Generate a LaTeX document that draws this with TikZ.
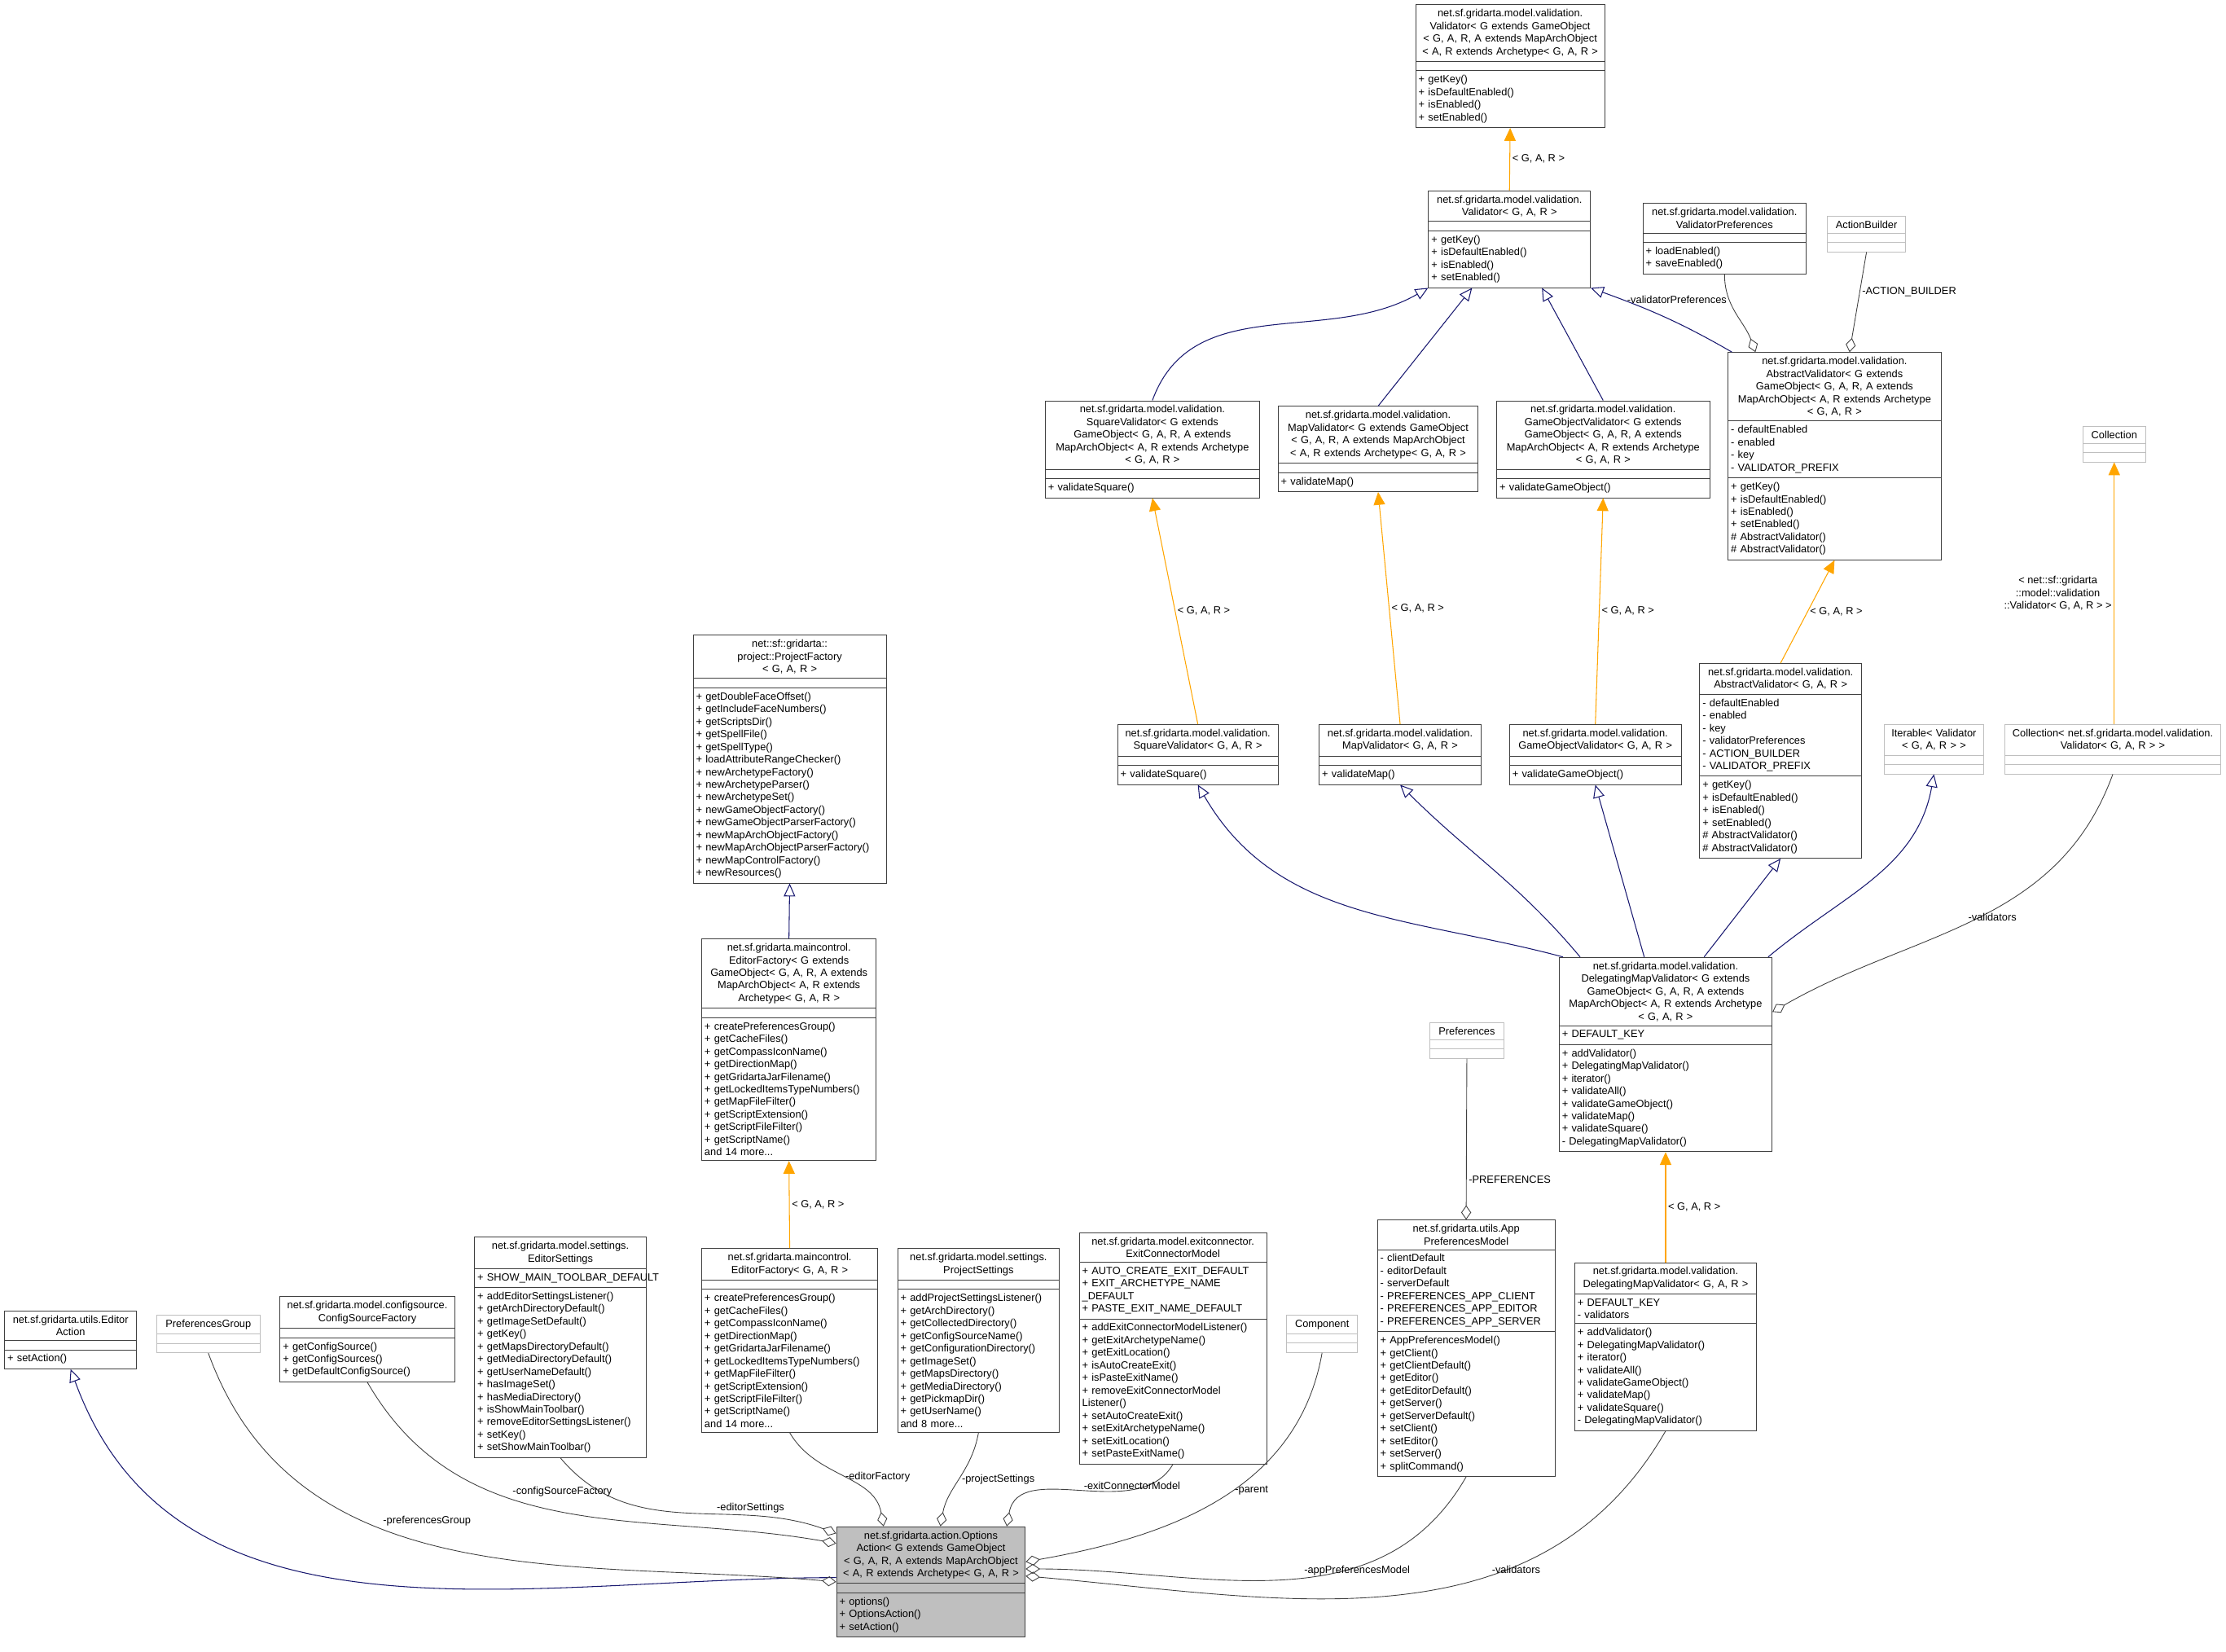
\documentclass[tikz,border=0pt]{standalone}
\usepackage{fontspec}
\setmainfont{Liberation Sans}
\usetikzlibrary{shapes.multipart,arrows.meta,calc}

\definecolor{boxline}{HTML}{404040}
\definecolor{inherit}{HTML}{191970}
\definecolor{tmpl}{HTML}{FFA500}
\definecolor{ghost}{HTML}{BFBFBF}
\definecolor{focus}{HTML}{BFBFBF}

\tikzset{
  cls/.style={draw=boxline,rectangle split,rectangle split parts=3,anchor=north west,
    inner xsep=2pt,inner ysep=3pt,font=\fontsize{7.3}{8.8}\selectfont,
    rectangle split empty part height=3pt,line width=0.5pt},
  ghostcls/.style={cls,draw=ghost},
  focuscls/.style={cls,fill=focus},
  isa/.style={draw=inherit,-{Triangle[open,length=9pt,width=8pt]},line width=0.6pt},
  tmplarrow/.style={draw=tmpl,-{Triangle[length=9pt,width=8pt]},line width=0.6pt},
  owns/.style={draw=boxline,{Diamond[open,length=10pt,width=7pt]}-,line width=0.5pt},
  lbl/.style={font=\fontsize{7.3}{8.8}\selectfont,inner sep=1.5pt},
}

% name, position, width, title, attributes, operations, style
\newcommand\umlclass[7][cls]{%
  \pgfmathsetlengthmacro\clswidth{#4*0.03486cm-4pt}%
  \node[#1,text width=\clswidth] (#2) at (#3)
    {{\centering #5\par}\nodepart{two}#6\nodepart{three}#7};}

\begin{document}
\begin{tikzpicture}[x=0.03486cm,y=-0.03486cm]
\useasboundingbox (0,0) rectangle (1568,1163.5);

% validation hierarchy
\umlclass{validatorg}{997,3}{133}{net.sf.gridarta.model.validation.\\Validator< G extends GameObject\\< G, A, R, A extends MapArchObject\\< A, R extends Archetype< G, A, R >}{}{+ getKey()\\+ isDefaultEnabled()\\+ isEnabled()\\+ setEnabled()}
\umlclass{validator}{1006,134}{114}{net.sf.gridarta.model.validation.\\Validator< G, A, R >}{}{+ getKey()\\+ isDefaultEnabled()\\+ isEnabled()\\+ setEnabled()}
\umlclass{valprefs}{1157,143}{115}{net.sf.gridarta.model.validation.\\ValidatorPreferences}{}{+ loadEnabled()\\+ saveEnabled()}
\umlclass[ghostcls]{actionbuilder}{1287,152}{55}{ActionBuilder}{}{}
\umlclass{abstractvalg}{1217,248}{150}{net.sf.gridarta.model.validation.\\AbstractValidator< G extends\\GameObject< G, A, R, A extends\\MapArchObject< A, R extends Archetype\\< G, A, R >}{- defaultEnabled\\- enabled\\- key\\- VALIDATOR\_PREFIX}{+ getKey()\\+ isDefaultEnabled()\\+ isEnabled()\\+ setEnabled()\\\# AbstractValidator()\\\# AbstractValidator()}
\umlclass{squarevalg}{736,282}{151}{net.sf.gridarta.model.validation.\\SquareValidator< G extends\\GameObject< G, A, R, A extends\\MapArchObject< A, R extends Archetype\\< G, A, R >}{}{+ validateSquare()}
\umlclass{mapvalg}{900,286}{141}{net.sf.gridarta.model.validation.\\MapValidator< G extends GameObject\\< G, A, R, A extends MapArchObject\\< A, R extends Archetype< G, A, R >}{}{+ validateMap()}
\umlclass{gameobjvalg}{1054,282}{150}{net.sf.gridarta.model.validation.\\GameObjectValidator< G extends\\GameObject< G, A, R, A extends\\MapArchObject< A, R extends Archetype\\< G, A, R >}{}{+ validateGameObject()}
\umlclass[ghostcls]{collection}{1467,300}{44}{Collection}{}{}
\umlclass{projectfactory}{488,447}{136}{net::sf::gridarta::\\project::ProjectFactory\\< G, A, R >}{}{+ getDoubleFaceOffset()\\+ getIncludeFaceNumbers()\\+ getScriptsDir()\\+ getSpellFile()\\+ getSpellType()\\+ loadAttributeRangeChecker()\\+ newArchetypeFactory()\\+ newArchetypeParser()\\+ newArchetypeSet()\\+ newGameObjectFactory()\\+ newGameObjectParserFactory()\\+ newMapArchObjectFactory()\\+ newMapArchObjectParserFactory()\\+ newMapControlFactory()\\+ newResources()}
\umlclass{abstractval}{1197,467}{114}{net.sf.gridarta.model.validation.\\AbstractValidator< G, A, R >}{- defaultEnabled\\- enabled\\- key\\- validatorPreferences\\- ACTION\_BUILDER\\- VALIDATOR\_PREFIX}{+ getKey()\\+ isDefaultEnabled()\\+ isEnabled()\\+ setEnabled()\\\# AbstractValidator()\\\# AbstractValidator()}
\umlclass{squareval}{787,510}{113}{net.sf.gridarta.model.validation.\\SquareValidator< G, A, R >}{}{+ validateSquare()}
\umlclass{mapval}{929,510}{114}{net.sf.gridarta.model.validation.\\MapValidator< G, A, R >}{}{+ validateMap()}
\umlclass{gameobjval}{1063,510}{121}{net.sf.gridarta.model.validation.\\GameObjectValidator< G, A, R >}{}{+ validateGameObject()}
\umlclass[ghostcls]{iterable}{1327,510}{70}{Iterable< Validator\\< G, A, R > >}{}{}
\umlclass[ghostcls]{valcollection}{1412,510}{152}{Collection< net.sf.gridarta.model.validation.\\Validator< G, A, R > >}{}{}
\umlclass{editorfactoryg}{494,661}{123}{net.sf.gridarta.maincontrol.\\EditorFactory< G extends\\GameObject< G, A, R, A extends\\MapArchObject< A, R extends\\Archetype< G, A, R >}{}{+ createPreferencesGroup()\\+ getCacheFiles()\\+ getCompassIconName()\\+ getDirectionMap()\\+ getGridartaJarFilename()\\+ getLockedItemsTypeNumbers()\\+ getMapFileFilter()\\+ getScriptExtension()\\+ getScriptFileFilter()\\+ getScriptName()\\and 14 more...}
\umlclass{delegatingg}{1098,674}{150}{net.sf.gridarta.model.validation.\\DelegatingMapValidator< G extends\\GameObject< G, A, R, A extends\\MapArchObject< A, R extends Archetype\\< G, A, R >}{+ DEFAULT\_KEY}{+ addValidator()\\+ DelegatingMapValidator()\\+ iterator()\\+ validateAll()\\+ validateGameObject()\\+ validateMap()\\+ validateSquare()\\- DelegatingMapValidator()}
\umlclass[ghostcls]{preferences}{1007,720}{52}{Preferences}{}{}

% members of the options action
\umlclass{editorsettings}{334,871}{121}{net.sf.gridarta.model.settings.\\EditorSettings}{\mbox{+ SHOW\_MAIN\_TOOLBAR\_DEFAULT}}{+ addEditorSettingsListener()\\+ getArchDirectoryDefault()\\+ getImageSetDefault()\\+ getKey()\\+ getMapsDirectoryDefault()\\+ getMediaDirectoryDefault()\\+ getUserNameDefault()\\+ hasImageSet()\\+ hasMediaDirectory()\\+ isShowMainToolbar()\\+ removeEditorSettingsListener()\\+ setKey()\\+ setShowMainToolbar()}
\umlclass{editorfactory}{494,879}{124}{net.sf.gridarta.maincontrol.\\EditorFactory< G, A, R >}{}{+ createPreferencesGroup()\\+ getCacheFiles()\\+ getCompassIconName()\\+ getDirectionMap()\\+ getGridartaJarFilename()\\+ getLockedItemsTypeNumbers()\\+ getMapFileFilter()\\+ getScriptExtension()\\+ getScriptFileFilter()\\+ getScriptName()\\and 14 more...}
\umlclass{projectsettings}{632,879}{114}{net.sf.gridarta.model.settings.\\ProjectSettings}{}{+ addProjectSettingsListener()\\+ getArchDirectory()\\+ getCollectedDirectory()\\+ getConfigSourceName()\\+ getConfigurationDirectory()\\+ getImageSet()\\+ getMapsDirectory()\\+ getMediaDirectory()\\+ getPickmapDir()\\+ getUserName()\\and 8 more...}
\umlclass{exitconnector}{760,868}{132}{net.sf.gridarta.model.exitconnector.\\ExitConnectorModel}{+ AUTO\_CREATE\_EXIT\_DEFAULT\\+ EXIT\_ARCHETYPE\_NAME\\\_DEFAULT\\+ PASTE\_EXIT\_NAME\_DEFAULT}{+ addExitConnectorModelListener()\\+ getExitArchetypeName()\\+ getExitLocation()\\+ isAutoCreateExit()\\+ isPasteExitName()\\+ removeExitConnectorModel\\Listener()\\+ setAutoCreateExit()\\+ setExitArchetypeName()\\+ setExitLocation()\\+ setPasteExitName()}
\umlclass[ghostcls]{component}{906,926}{50}{Component}{}{}
\umlclass{apprefs}{970,859}{125}{net.sf.gridarta.utils.App\\PreferencesModel}{- clientDefault\\- editorDefault\\- serverDefault\\- PREFERENCES\_APP\_CLIENT\\- PREFERENCES\_APP\_EDITOR\\- PREFERENCES\_APP\_SERVER}{+ AppPreferencesModel()\\+ getClient()\\+ getClientDefault()\\+ getEditor()\\+ getEditorDefault()\\+ getServer()\\+ getServerDefault()\\+ setClient()\\+ setEditor()\\+ setServer()\\+ splitCommand()}
\umlclass{delegating}{1109,889}{128}{net.sf.gridarta.model.validation.\\DelegatingMapValidator< G, A, R >}{+ DEFAULT\_KEY\\- validators}{+ addValidator()\\+ DelegatingMapValidator()\\+ iterator()\\+ validateAll()\\+ validateGameObject()\\+ validateMap()\\+ validateSquare()\\- DelegatingMapValidator()}
\umlclass{editoraction}{3,923}{93}{net.sf.gridarta.utils.Editor\\Action}{}{+ setAction()}
\umlclass[ghostcls]{prefsgroup}{110,926}{73}{PreferencesGroup}{}{}
\umlclass{configsource}{197,913}{123}{net.sf.gridarta.model.configsource.\\ConfigSourceFactory}{}{+ getConfigSource()\\+ getConfigSources()\\+ getDefaultConfigSource()}
\umlclass[focuscls]{optionsaction}{589,1075}{133}{net.sf.gridarta.action.Options\\Action< G extends GameObject\\< G, A, R, A extends MapArchObject\\< A, R extends Archetype< G, A, R >}{}{+ options()\\+ OptionsAction()\\+ setAction()}

% template instances
\draw[tmplarrow] (validator.north) -- node[lbl,right] {< G, A, R >} (validatorg.south);
\draw[tmplarrow] (squareval.north) -- node[lbl,right] {< G, A, R >} (squarevalg.south);
\draw[tmplarrow] (mapval.north) -- node[lbl,right] {< G, A, R >} (mapvalg.south);
\draw[tmplarrow] (gameobjval.north) -- node[lbl,right] {< G, A, R >} (gameobjvalg.south);
\draw[tmplarrow] (abstractval.north) -- node[lbl,right] {< G, A, R >} (abstractvalg.south);
\draw[tmplarrow] (valcollection.north -| collection.south) -- node[lbl,left,align=center] {< net::sf::gridarta\\::model::validation\\::Validator< G, A, R > >} (collection.south);
\draw[tmplarrow] (editorfactory.north) -- node[lbl,right] {< G, A, R >} (editorfactoryg.south);
\draw[tmplarrow] (delegating.north) -- node[lbl,right] {< G, A, R >} (delegatingg.south);

% inheritance
\draw[isa] (squarevalg.north) to[out=70,in=-150] ($(validator.south west)!0!(validator.south east)$);
\draw[isa] (mapvalg.north) -- ($(validator.south west)!0.27!(validator.south east)$);
\draw[isa] (gameobjvalg.north) -- ($(validator.south west)!0.7!(validator.south east)$);
\draw[isa] ($(abstractvalg.north west)!0.02!(abstractvalg.north east)$) to[out=150,in=-20] (validator.south east);
\draw[isa] (editorfactoryg.north) -- (projectfactory.south);
\draw[isa] ($(delegatingg.north west)!0.02!(delegatingg.north east)$) to[out=165,in=-60] (squareval.south);
\draw[isa] ($(delegatingg.north west)!0.1!(delegatingg.north east)$) to[out=130,in=-45] (mapval.south);
\draw[isa] ($(delegatingg.north west)!0.4!(delegatingg.north east)$) -- (gameobjval.south);
\draw[isa] ($(delegatingg.north west)!0.68!(delegatingg.north east)$) -- (abstractval.south);
\draw[isa] ($(delegatingg.north west)!0.98!(delegatingg.north east)$) to[out=40,in=-100] (iterable.south);
\draw[isa] ($(optionsaction.west)+(0,-3)$) to[out=180,in=-70] (editoraction.south);

% aggregation
\draw[owns] ($(abstractvalg.north west)!0.13!(abstractvalg.north east)$) to[out=110,in=-90] node[lbl,pos=0.7,left] {-validatorPreferences} (valprefs.south);
\draw[owns] ($(abstractvalg.north west)!0.57!(abstractvalg.north east)$) -- node[lbl,pos=0.6,right] {-ACTION\_BUILDER} (actionbuilder.south);
\draw[owns] ($(delegatingg.east)+(0,-30)$) to[out=30,in=-110] node[lbl,pos=0.55,below] {-validators} (valcollection.south);
\draw[owns] (apprefs.north) -- node[lbl,pos=0.25,right] {-PREFERENCES} (preferences.south);
\draw[owns] ($(optionsaction.west)+(0,0)$) to[out=175,in=-70] node[lbl,pos=0.62,above right] {-preferencesGroup} (prefsgroup.south);
\draw[owns] ($(optionsaction.north west)+(0,12)$) to[out=170,in=-60] node[lbl,pos=0.62,above right] {-configSourceFactory} (configsource.south);
\draw[owns] ($(optionsaction.north west)+(0,5)$) to[out=160,in=-50] node[lbl,pos=0.4,above right] {-editorSettings} (editorsettings.south);
\draw[owns] ($(optionsaction.north west)!0.25!(optionsaction.north east)$) to[out=100,in=-60] node[lbl,pos=0.5,right] {-editorFactory} (editorfactory.south);
\draw[owns] ($(optionsaction.north west)!0.55!(optionsaction.north east)$) to[out=80,in=-100] node[lbl,pos=0.5,right] {-projectSettings} (projectsettings.south);
\draw[owns] ($(optionsaction.north west)!0.9!(optionsaction.north east)$) to[out=80,in=-120] node[lbl,pos=0.5,above right] {-exitConnectorModel} (exitconnector.south);
\draw[owns] ($(optionsaction.north east)+(0,25)$) to[out=10,in=-100] node[lbl,pos=0.55,right] {-parent} (component.south);
\draw[owns] ($(optionsaction.north east)+(0,30)$) to[out=0,in=-120] node[lbl,pos=0.55,above right] {-appPreferencesModel} (apprefs.south);
\draw[owns] ($(optionsaction.north east)+(0,35)$) to[out=-5,in=-120] node[lbl,pos=0.65,above right] {-validators} (delegating.south);
\end{tikzpicture}
\end{document}
